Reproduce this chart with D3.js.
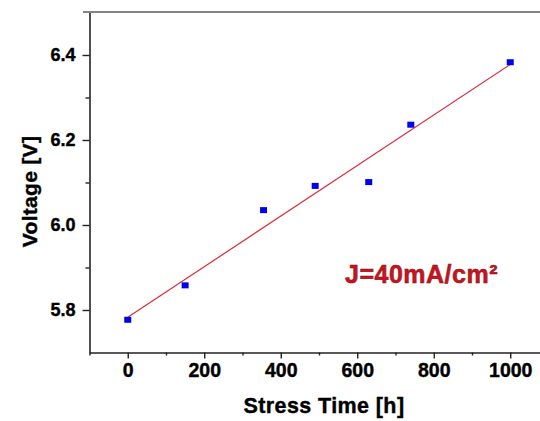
<!DOCTYPE html>
<html>
<head>
<meta charset="utf-8">
<script src="https://cdn.jsdelivr.net/npm/d3@7"></script>
<style>
  html, body { margin: 0; padding: 0; background: #fff; }
  svg { display: block; font-family: "Liberation Sans", Arial, sans-serif; }
</style>
</head>
<body>
<svg id="chart" width="540" height="421"></svg>
<script>
// Measured voltage during the stress test
const stressHours = [0, 150, 355, 490, 630, 740, 1000];
const voltage = [5.777, 5.858, 6.035, 6.092, 6.101, 6.236, 6.383];

// Axis ticks
const xMajorTicks = [0, 200, 400, 600, 800, 1000];
const xMinorTicks = [-100, 100, 300, 500, 700, 900, 1100];
const yMajorTicks = [5.8, 6.0, 6.2, 6.4];
const yMinorTicks = [5.9, 6.1, 6.3];

const annotation = "J=40mA/cm²";

const svg = d3.select("#chart");

const x = d3.scaleLinear().domain([-100, 1100]).range([89.5, 548.5]);
const y = d3.scaleLinear().domain([5.7, 6.5]).range([352.5, 12.5]);

// Least-squares linear fit of voltage vs. time
const mx = d3.mean(stressHours), my = d3.mean(voltage);
let sxy = 0, sxx = 0;
stressHours.forEach((t, i) => {
  sxy += (t - mx) * (voltage[i] - my);
  sxx += (t - mx) * (t - mx);
});
const slope = sxy / sxx;
const intercept = my - slope * mx;
const fitEnds = [d3.min(stressHours), d3.max(stressHours)];

// Top frame line
svg.append("line")
  .attr("x1", 83).attr("x2", 540)
  .attr("y1", 12).attr("y2", 12)
  .attr("stroke", "#5a5a5a").attr("stroke-width", 1.6);

// X axis: major and minor ticks
const xAxis = svg.append("g").attr("transform", `translate(0,${y.range()[0]})`)
  .call(d3.axisBottom(x).tickValues(xMajorTicks).tickFormat(d3.format("d"))
    .tickSize(6).tickPadding(5).tickSizeOuter(0));
svg.append("g").attr("transform", `translate(0,${y.range()[0]})`)
  .call(d3.axisBottom(x).tickValues(xMinorTicks).tickFormat("").tickSize(3).tickSizeOuter(0))
  .call(g => g.select(".domain").remove());

// Y axis: major and minor ticks
const yAxis = svg.append("g").attr("transform", `translate(${x.range()[0]},0)`)
  .call(d3.axisLeft(y).tickValues(yMajorTicks).tickFormat(d3.format(".1f"))
    .tickSize(7).tickPadding(7).tickSizeOuter(0));
svg.append("g").attr("transform", `translate(${x.range()[0]},0)`)
  .call(d3.axisLeft(y).tickValues(yMinorTicks).tickFormat("").tickSize(4).tickSizeOuter(0))
  .call(g => g.select(".domain").remove());

svg.selectAll(".domain").attr("stroke", "#222").attr("stroke-width", 1.6);
svg.selectAll(".tick line").attr("stroke", "#222").attr("stroke-width", 1.4);

xAxis.selectAll("text")
  .attr("font-size", 19.5).attr("font-weight", "bold")
  .attr("fill", "#000").attr("stroke", "#000").attr("stroke-width", 0.4);
yAxis.selectAll("text")
  .attr("font-size", 18).attr("font-weight", "bold")
  .attr("fill", "#000").attr("stroke", "#000").attr("stroke-width", 0.4);

// Axis titles
svg.append("text")
  .attr("x", 324).attr("y", 413)
  .attr("text-anchor", "middle")
  .attr("font-size", 21.5).attr("font-weight", "bold")
  .attr("letter-spacing", "0.4px")
  .attr("stroke", "#000").attr("stroke-width", 0.4)
  .text("Stress Time [h]");

svg.append("text")
  .attr("transform", "translate(37,191.5) rotate(-90)")
  .attr("text-anchor", "middle")
  .attr("font-size", 21).attr("font-weight", "bold")
  .attr("letter-spacing", "0.3px")
  .attr("stroke", "#000").attr("stroke-width", 0.4)
  .text("Voltage [V]");

// Linear fit line
svg.append("line")
  .attr("x1", x(fitEnds[0])).attr("y1", y(intercept + slope * fitEnds[0]))
  .attr("x2", x(fitEnds[1])).attr("y2", y(intercept + slope * fitEnds[1]))
  .attr("stroke", "#dd2a3a").attr("stroke-width", 1.2);

// Data markers
svg.append("g").selectAll("rect")
  .data(stressHours.map((t, i) => [t, voltage[i]]))
  .join("rect")
  .attr("x", d => x(d[0]) - 3.5)
  .attr("y", d => y(d[1]) - 3)
  .attr("width", 7).attr("height", 6)
  .attr("fill", "#0000ee");

// Current density annotation
svg.append("text")
  .attr("x", 345).attr("y", 283)
  .attr("font-size", 25).attr("font-weight", "bold")
  .attr("letter-spacing", "0.5px")
  .attr("fill", "#c8141e")
  .attr("stroke", "#8a0a10").attr("stroke-width", 0.5)
  .text(annotation);
</script>
</body>
</html>
